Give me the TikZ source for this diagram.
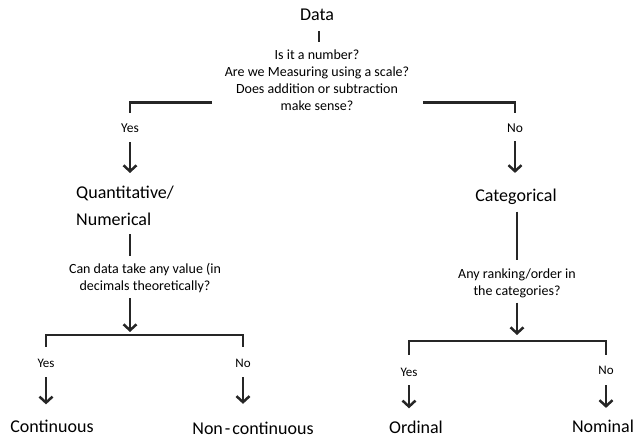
\documentclass[tikz,border=0pt]{standalone}
\usepackage{fontspec}
\setmainfont{Carlito}
\usetikzlibrary{arrows.meta}
\tikzset{
  big/.style={inner sep=0pt, anchor=base, font=\fontsize{18pt}{27pt}\selectfont},
  quest/.style={inner sep=0pt, anchor=north, align=center, font=\fontsize{14pt}{17pt}\selectfont},
  lab/.style={inner sep=0pt, anchor=base, font=\fontsize{13.5pt}{16pt}\selectfont},
  slab/.style={inner sep=0pt, anchor=base, font=\fontsize{13pt}{16pt}\selectfont},
  conn/.style={line width=2.5pt, black!85},
  arr/.style={conn, -{Straight Barb[length=6pt,width=13pt]}},
}
\begin{document}
\begin{tikzpicture}[x=1pt,y=-1pt]
\useasboundingbox (0,0) rectangle (635,438);
% nodes
\node[big] (data) at (317,21) {Data};
\node[quest] (q1) at (317,50) {Is it a number?\\Are we Measuring using a scale?\\Does addition or subtraction\\make sense?};
\node[lab] (yes1) at (130,133) {Yes};
\node[lab] (no1) at (515,133) {No};
\node[inner sep=0pt, anchor=north west, align=left, font=\fontsize{18pt}{27pt}\selectfont] (quant) at (76,185.4) {Quantitative/\\Numerical};
\node[big] (cat) at (516,202) {Categorical};
\node[quest] (q2) at (145,263.2) {Can data take any value (in\\decimals theoretically?};
\node[quest] (q3) at (517,268.2) {Any ranking/order in\\the categories?};
\coordinate (j2) at (130,335);
\coordinate (j3) at (517,341);
\node[slab] (yes2) at (46,368) {Yes};
\node[slab] (no2) at (243,367.6) {No};
\node[slab] (yes3) at (409,377) {Yes};
\node[slab] (no3) at (606,375) {No};
\node[big] (cont) at (52,432) {Continuous};
\node[big] (noncont) at (253,434.5) {Non\kern2pt-\kern2pt continuous};
\node[big] (ord) at (416,434) {Ordinal};
\node[big] (nom) at (603,432) {Nominal};
% connectors
\draw[conn, shorten <=10pt, shorten >=8pt] (data.south -| 319,0) -- (q1.north -| 319,0);
\draw[conn, shorten >=11.3pt] ([shift={(-12.6pt,8.5pt)}]q1.south west) -| (yes1.north);
\draw[conn, shorten >=11.3pt] ([shift={(13.6pt,8.5pt)}]q1.south east) -| (no1.north);
\draw[arr, shorten <=9pt, shorten >=12.4pt] (yes1.south) -- (yes1.south |- quant.north);
\draw[arr, shorten <=8pt, shorten >=16.4pt] (no1.south) -- (no1.south |- cat.north);
\draw[conn, shorten <=9pt, shorten >=7.2pt] (yes1.south |- quant.south) -- (yes1.south |- q2.north);
\draw[arr, shorten <=5.2pt, shorten >=3pt] (q2.south -| j2) -- (j2);
\draw[conn, shorten <=6.4pt, shorten >=8.2pt] (cat.south -| j3) -- (q3.north -| j3);
\draw[arr, shorten <=5pt, shorten >=6pt] (q3.south -| j3) -- (j3);
\draw[conn, shorten <=12.6pt, shorten >=12.2pt] (yes2.north) |- (j2) -| (no2.north);
\draw[conn, shorten <=13.6pt, shorten >=11.6pt] (yes3.north) |- (j3) -| (no3.north);
\draw[arr, shorten <=9pt, shorten >=15pt] (yes2.south) -- (yes2.south |- cont.north);
\draw[arr, shorten <=9.4pt, shorten >=18pt] (no2.south) -- (no2.south |- noncont.north);
\draw[arr, shorten <=8pt, shorten >=13pt] (yes3.south) -- (yes3.south |- ord.north);
\draw[arr, shorten <=10pt, shorten >=11.4pt] (no3.south) -- (no3.south |- nom.north);
\end{tikzpicture}
\end{document}
